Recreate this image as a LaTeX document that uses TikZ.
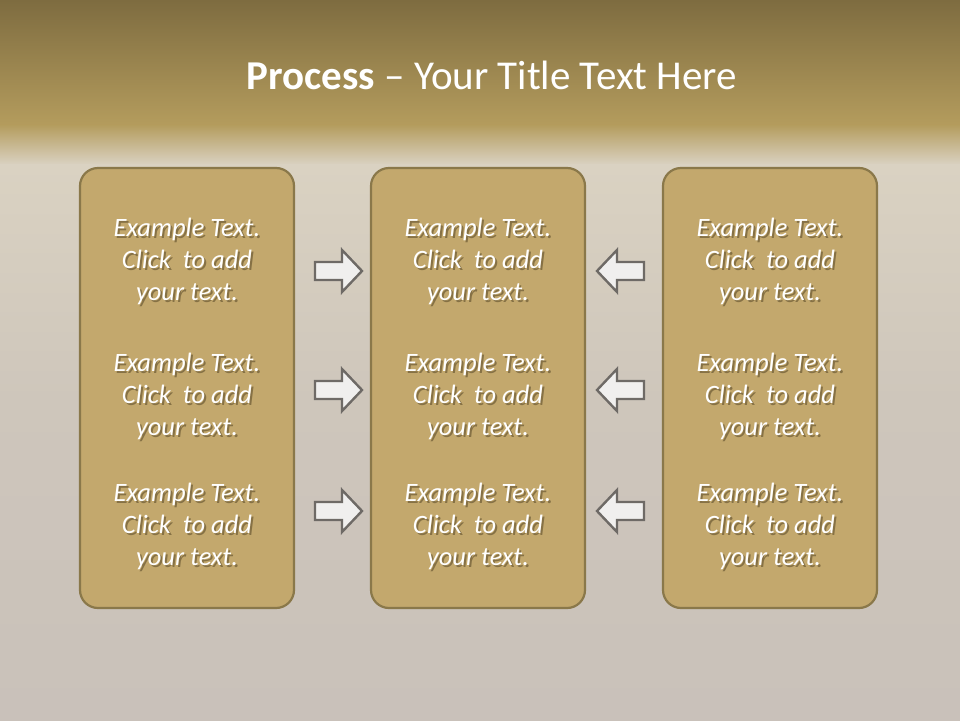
\documentclass[tikz,border=0pt]{standalone}
\usepackage{fontspec}
\setmainfont{Carlito}
\definecolor{bandtop}{HTML}{7E6C40}
\definecolor{bandbot}{HTML}{B49C5D}
\definecolor{bglight}{HTML}{DAD2C2}
\definecolor{bgmid}{HTML}{CEC6BB}
\definecolor{bgbot}{HTML}{C9C1BA}
\definecolor{boxfill}{HTML}{C3A86D}
\definecolor{boxline}{HTML}{8A784A}
\definecolor{arrfill}{HTML}{F0EFEE}
\definecolor{arrline}{HTML}{6E6A66}
\definecolor{shadowc}{HTML}{4A3C1E}
\tikzset{
  panel/.style={draw=boxline, line width=2.2pt, fill=boxfill, rounded corners=18pt},
  bodytext/.style={text=white, font=\fontsize{26.5}{32}\selectfont\itshape, align=center},
  shadowtext/.style={text=shadowc, opacity=0.5, font=\fontsize{26.5}{32}\selectfont\itshape, align=center},
  arr/.style={draw=arrline, line width=2.4pt, fill=arrfill, line join=miter},
  pics/rarrow/.style={code={
    \draw[arr] (-23.5,-9) -- (3.5,-9) -- (3.5,-21) -- (23.5,0) -- (3.5,21) -- (3.5,9) -- (-23.5,9) -- cycle;
  }},
  pics/larrow/.style={code={
    \draw[arr] (23.5,-9) -- (-3.5,-9) -- (-3.5,-21) -- (-23.5,0) -- (-3.5,21) -- (-3.5,9) -- (23.5,9) -- cycle;
  }}
}
\begin{document}
\begin{tikzpicture}[x=1pt,y=-1pt]
\useasboundingbox (0,0) rectangle (960,720);
% background
\shade[top color=bandtop, bottom color=bandbot] (0,0) rectangle (960,125);
\shade[top color=bandbot, bottom color=bglight] (0,124.5) rectangle (960,165);
\shade[top color=bglight, bottom color=bgmid] (0,164.5) rectangle (960,400);
\shade[top color=bgmid, bottom color=bgbot] (0,399.5) rectangle (960,720);
% title
\node[text=white, font=\fontsize{41}{48}\selectfont] (title) at (492,75)
  {\textbf{Process} – Your Title Text Here};
% panels
\foreach \n/\cx in {L/187, M/478, R/770}{
  \draw[panel] (\cx-107,168) rectangle (\cx+107,608);
  \foreach \r/\cy in {1/261, 2/396, 3/526}{
    \node[shadowtext] at (\cx+2,\cy+2.5) {Example Text.\\Click~ to add\\your text.};
    \node[bodytext] (t\n\r) at (\cx,\cy) {Example Text.\\Click~ to add\\your text.};
  }
}
% arrows
\foreach \r/\ay in {1/271, 2/390, 3/511}{
  \pic (ra\r) at (338.5,\ay) {rarrow};
  \pic (la\r) at (620.5,\ay) {larrow};
}
\end{tikzpicture}
\end{document}
